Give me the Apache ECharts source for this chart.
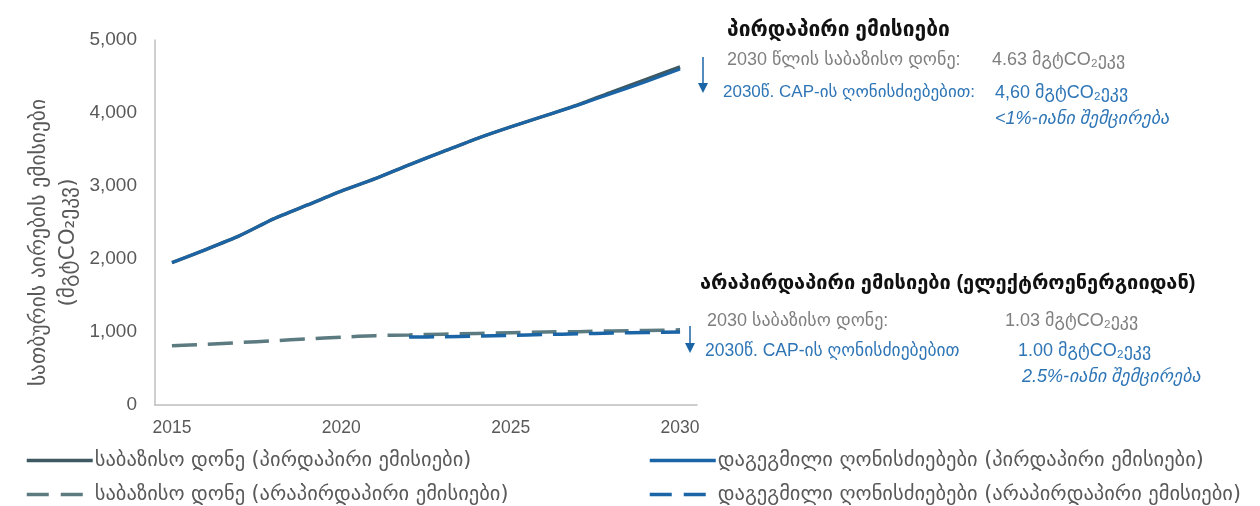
<!DOCTYPE html>
<html>
<head>
<meta charset="utf-8">
<script src="https://cdn.jsdelivr.net/npm/echarts@6/dist/echarts.min.js"></script>
<style>
html,body{margin:0;padding:0;background:#fff;}
#chart{width:1260px;height:506px;}
</style>
</head>
<body>
<div id="chart"></div>
<script>
// ---- data ----
const years = ['2015','2016','2017','2018','2019','2020','2021','2022','2023','2024','2025','2026','2027','2028','2029','2030'];
const baselineDirect = [1950,2130,2320,2550,2740,2930,3100,3290,3470,3650,3810,3960,4115,4290,4460,4630];
const plannedDirect  = [1950,2130,2320,2550,2740,2930,3100,3290,3470,3650,3810,3960,4110,4270,4430,4600];
const baselineIndirect = [810,830,855,880,905,930,950,960,970,980,990,1000,1005,1015,1020,1030];
const plannedIndirect  = [null,null,null,null,null,null,null,930,935,945,955,965,975,985,993,1000];
const yTicks = [0,1000,2000,3000,4000,5000];
const seriesNames = [
  'საბაზისო დონე (პირდაპირი ემისიები)',
  'დაგეგმილი ღონისძიებები (პირდაპირი ემისიები)',
  'საბაზისო დონე (არაპირდაპირი ემისიები)',
  'დაგეგმილი ღონისძიებები (არაპირდაპირი ემისიები)'
];
const yTitle = 'სათბურის აირების ემისიები\n(მგტCO₂ეკვ)';

const FONT = '"Liberation Sans", "DejaVu Sans", sans-serif';
const GEO = '"DejaVu Sans", "Liberation Sans", sans-serif';
const C_GRAY_DIRECT = '#3e5961';
const C_GRAY_IND = '#5b7b80';
const C_BLUE = '#1b65a6';
const C_TXT = '#595959';
const C_ANN_GRAY = '#7f7f7f';
const C_ANN_BLUE = '#2e75b6';

const chart = echarts.init(document.getElementById('chart'), null, {renderer:'canvas'});

function legendCfg(name, left, top, color, dashed){
  return {
    data:[name], left:left, top:top, itemWidth:66, itemHeight:14, itemGap:0,
    itemStyle:{opacity:0},
    lineStyle:{color:color, width:3.5, type: dashed ? [22,12] : 'solid'},
    textStyle:{color:C_TXT, fontSize:20.5, fontFamily:GEO, padding:[0,0,0,-3]},
    selectedMode:false
  };
}

function txt(x, y, text, color, size, weight, style){
  return {type:'text', left:x, top:y, style:{text:text, fill:color, fontSize:size, fontWeight:weight||'normal', fontStyle:style||'normal', fontFamily:FONT}};
}

const option = {
  animation:false,
  backgroundColor:'#fff',
  grid:{left:155, right:563, top:40, bottom:101, containLabel:false},
  xAxis:{
    type:'category', data:years, boundaryGap:true,
    axisLine:{lineStyle:{color:'#bfbfbf', width:1.5}},
    axisTick:{show:false},
    axisLabel:{interval:4, color:C_TXT, fontSize:17.5, fontFamily:FONT, margin:14}
  },
  yAxis:{
    type:'value', min:yTicks[0], max:yTicks[yTicks.length-1], interval:1000,
    axisLine:{show:true, lineStyle:{color:'#bfbfbf', width:1.5}},
    axisTick:{show:false},
    splitLine:{show:false},
    axisLabel:{color:C_TXT, fontSize:19, fontFamily:FONT, margin:18,
      formatter:function(v){return v.toLocaleString('en-US');}},
    name:yTitle, nameLocation:'middle', nameRotate:90, nameGap:72,
    nameTextStyle:{color:C_TXT, fontSize:21.5, fontFamily:GEO, lineHeight:29, align:'center', padding:[0,40,0,0]}
  },
  legend:[
    legendCfg(seriesNames[0], 20, 445, C_GRAY_DIRECT, false),
    legendCfg(seriesNames[1], 643, 445, C_BLUE, false),
    legendCfg(seriesNames[2], 20, 479, C_GRAY_IND, true),
    legendCfg(seriesNames[3], 643, 479, C_BLUE, true)
  ],
  series:[
    {name:seriesNames[0], type:'line', data:baselineDirect, symbol:'none', smooth:0.2,
      lineStyle:{color:C_GRAY_DIRECT, width:3.5}, itemStyle:{color:C_GRAY_DIRECT}, z:2},
    {name:seriesNames[1], type:'line', data:plannedDirect, symbol:'none', smooth:0.2,
      lineStyle:{color:C_BLUE, width:3}, itemStyle:{color:C_BLUE}, z:3},
    {name:seriesNames[2], type:'line', data:baselineIndirect, symbol:'none', smooth:0.2,
      lineStyle:{color:C_GRAY_IND, width:3.5, type:[25,11]}, itemStyle:{color:C_GRAY_IND}, z:2},
    {name:seriesNames[3], type:'line', data:plannedIndirect, symbol:'none', smooth:0.2, connectNulls:false,
      lineStyle:{color:C_BLUE, width:3.5, type:[25,11]}, itemStyle:{color:C_BLUE}, z:3}
  ],
  graphic:[
    // top annotation
    txt(727, 20, 'პირდაპირი ემისიები', '#111', 21, 'bold'),
    txt(727, 51, '2030 წლის საბაზისო დონე:', C_ANN_GRAY, 18),
    txt(992, 51, '4.63 მგტCO₂ეკვ', C_ANN_GRAY, 18),
    txt(723, 84, '2030წ. CAP-ის ღონისძიებებით:', C_ANN_BLUE, 17),
    txt(995, 84, '4,60 მგტCO₂ეკვ', C_ANN_BLUE, 18),
    txt(995, 110, '<1%-იანი შემცირება', C_ANN_BLUE, 18, 'normal', 'italic'),
    {type:'line', shape:{x1:703, y1:57, x2:703, y2:84}, style:{stroke:C_BLUE, lineWidth:1.5}},
    {type:'polygon', shape:{points:[[698,83],[708,83],[703,93]]}, style:{fill:C_BLUE}},
    // bottom annotation
    txt(700, 273, 'არაპირდაპირი ემისიები (ელექტროენერგიიდან)', '#111', 20, 'bold'),
    txt(707, 312, '2030 საბაზისო დონე:', C_ANN_GRAY, 18),
    txt(1005, 312, '1.03 მგტCO₂ეკვ', C_ANN_GRAY, 18),
    txt(705, 342, '2030წ. CAP-ის ღონისძიებებით', C_ANN_BLUE, 17.5),
    txt(1018, 342, '1.00 მგტCO₂ეკვ', C_ANN_BLUE, 18),
    txt(1022, 368, '2.5%-იანი შემცირება', C_ANN_BLUE, 18, 'normal', 'italic'),
    {type:'line', shape:{x1:690, y1:326, x2:690, y2:344}, style:{stroke:C_BLUE, lineWidth:1.5}},
    {type:'polygon', shape:{points:[[685,343],[695,343],[690,353]]}, style:{fill:C_BLUE}}
  ]
};
chart.setOption(option);
</script>
</body>
</html>
